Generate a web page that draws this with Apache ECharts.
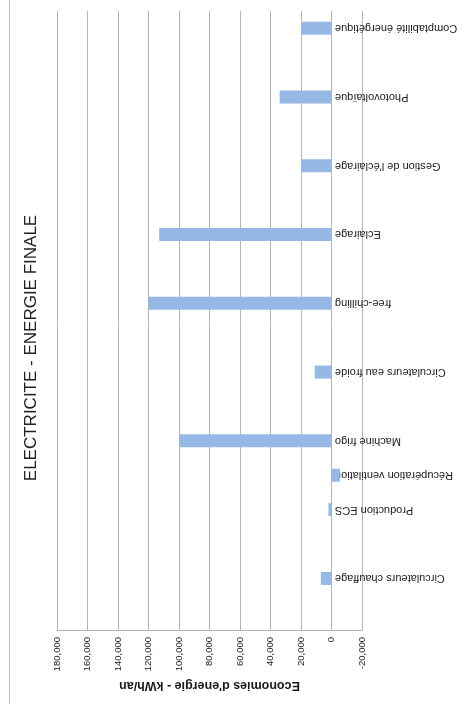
<!DOCTYPE html>
<html>
<head>
<meta charset="utf-8">
<script src="https://cdn.jsdelivr.net/npm/echarts@6/dist/echarts.min.js"></script>
<style>
  html, body { margin: 0; padding: 0; background: #ffffff; }
  #chart { width: 464px; height: 704px; }
</style>
</head>
<body>
<div id="chart"></div>
<script>
// Rows of the source table, top to bottom; empty rows keep their slot.
const categories = [
  'Comptabilité énergétique', '',
  'Photovoltaïque', '',
  "Gestion de l'éclairage", '',
  'Eclairage', '',
  'free-chilling', '',
  'Circulateurs eau froide', '',
  'Machine frigo',
  'Récupération ventilation',
  'Production ECS', '',
  'Circulateurs chauffage', ''
];

// Energy savings, kWh/an (null = empty row)
const savings = [
  20000, null,
  34000, null,
  20000, null,
  113000, null,
  120000, null,
  11000, null,
  100000,
  -5500,
  2000, null,
  7000, null
];

const axisMin = -20000;
const axisMax = 180000;
const axisStep = 20000;

const chartTitle = 'ELECTRICITE - ENERGIE FINALE';
const valueAxisName = "Economies d'energie - kWh/an";

const gridColor = '#b4b4b4';
const barColor = '#95b8e4';
const fontFamily = '"Liberation Sans", Arial, sans-serif';

const chart = echarts.init(document.getElementById('chart'), null, { renderer: 'canvas' });

chart.setOption({
  animation: false,
  backgroundColor: '#ffffff',
  grid: {
    left: 57, right: 102, top: 11, bottom: 74,
    containLabel: false,
    outerBoundsMode: 'none'
  },
  xAxis: {
    type: 'value',
    inverse: true,
    min: axisMin,
    max: axisMax,
    interval: axisStep,
    position: 'bottom',
    name: valueAxisName,
    nameLocation: 'middle',
    nameRotate: 180,
    nameGap: 47,
    nameTextStyle: { fontFamily, fontSize: 12.5, fontWeight: 'bold', color: '#1a1a1a' },
    axisLine: { show: true, onZero: false, lineStyle: { color: gridColor, width: 1 } },
    axisTick: { show: false },
    axisLabel: {
      rotate: 90,
      margin: 7,
      fontFamily,
      fontSize: 9.5,
      color: '#1a1a1a',
      formatter: v => v.toLocaleString('en-US')
    },
    splitLine: { show: true, lineStyle: { color: gridColor, width: 1 } }
  },
  yAxis: {
    type: 'category',
    data: categories,
    inverse: true,
    position: 'right',
    // labels sit just right of the zero line (the zero line itself is a split line)
    axisLine: { show: false, onZero: false },
    axisTick: { show: false },
    splitLine: { show: false },
    axisLabel: {
      interval: 0,
      rotate: 180,
      margin: -27,
      fontFamily,
      fontSize: 11,
      color: '#1a1a1a'
    }
  },
  series: [{
    type: 'bar',
    data: savings,
    barWidth: 13,
    itemStyle: { color: barColor },
    silent: true
  }],
  graphic: [
    {
      type: 'line',
      shape: { x1: 9.5, y1: 0, x2: 9.5, y2: 704 },
      style: { stroke: '#bdbdbd', lineWidth: 1 },
      silent: true
    },
    {
      type: 'text',
      x: 31,
      y: 348,
      rotation: Math.PI / 2,
      style: {
        text: chartTitle,
        fontFamily,
        fontSize: 17,
        fill: '#222222',
        align: 'center',
        verticalAlign: 'middle'
      },
      silent: true
    }
  ]
});
</script>
</body>
</html>
